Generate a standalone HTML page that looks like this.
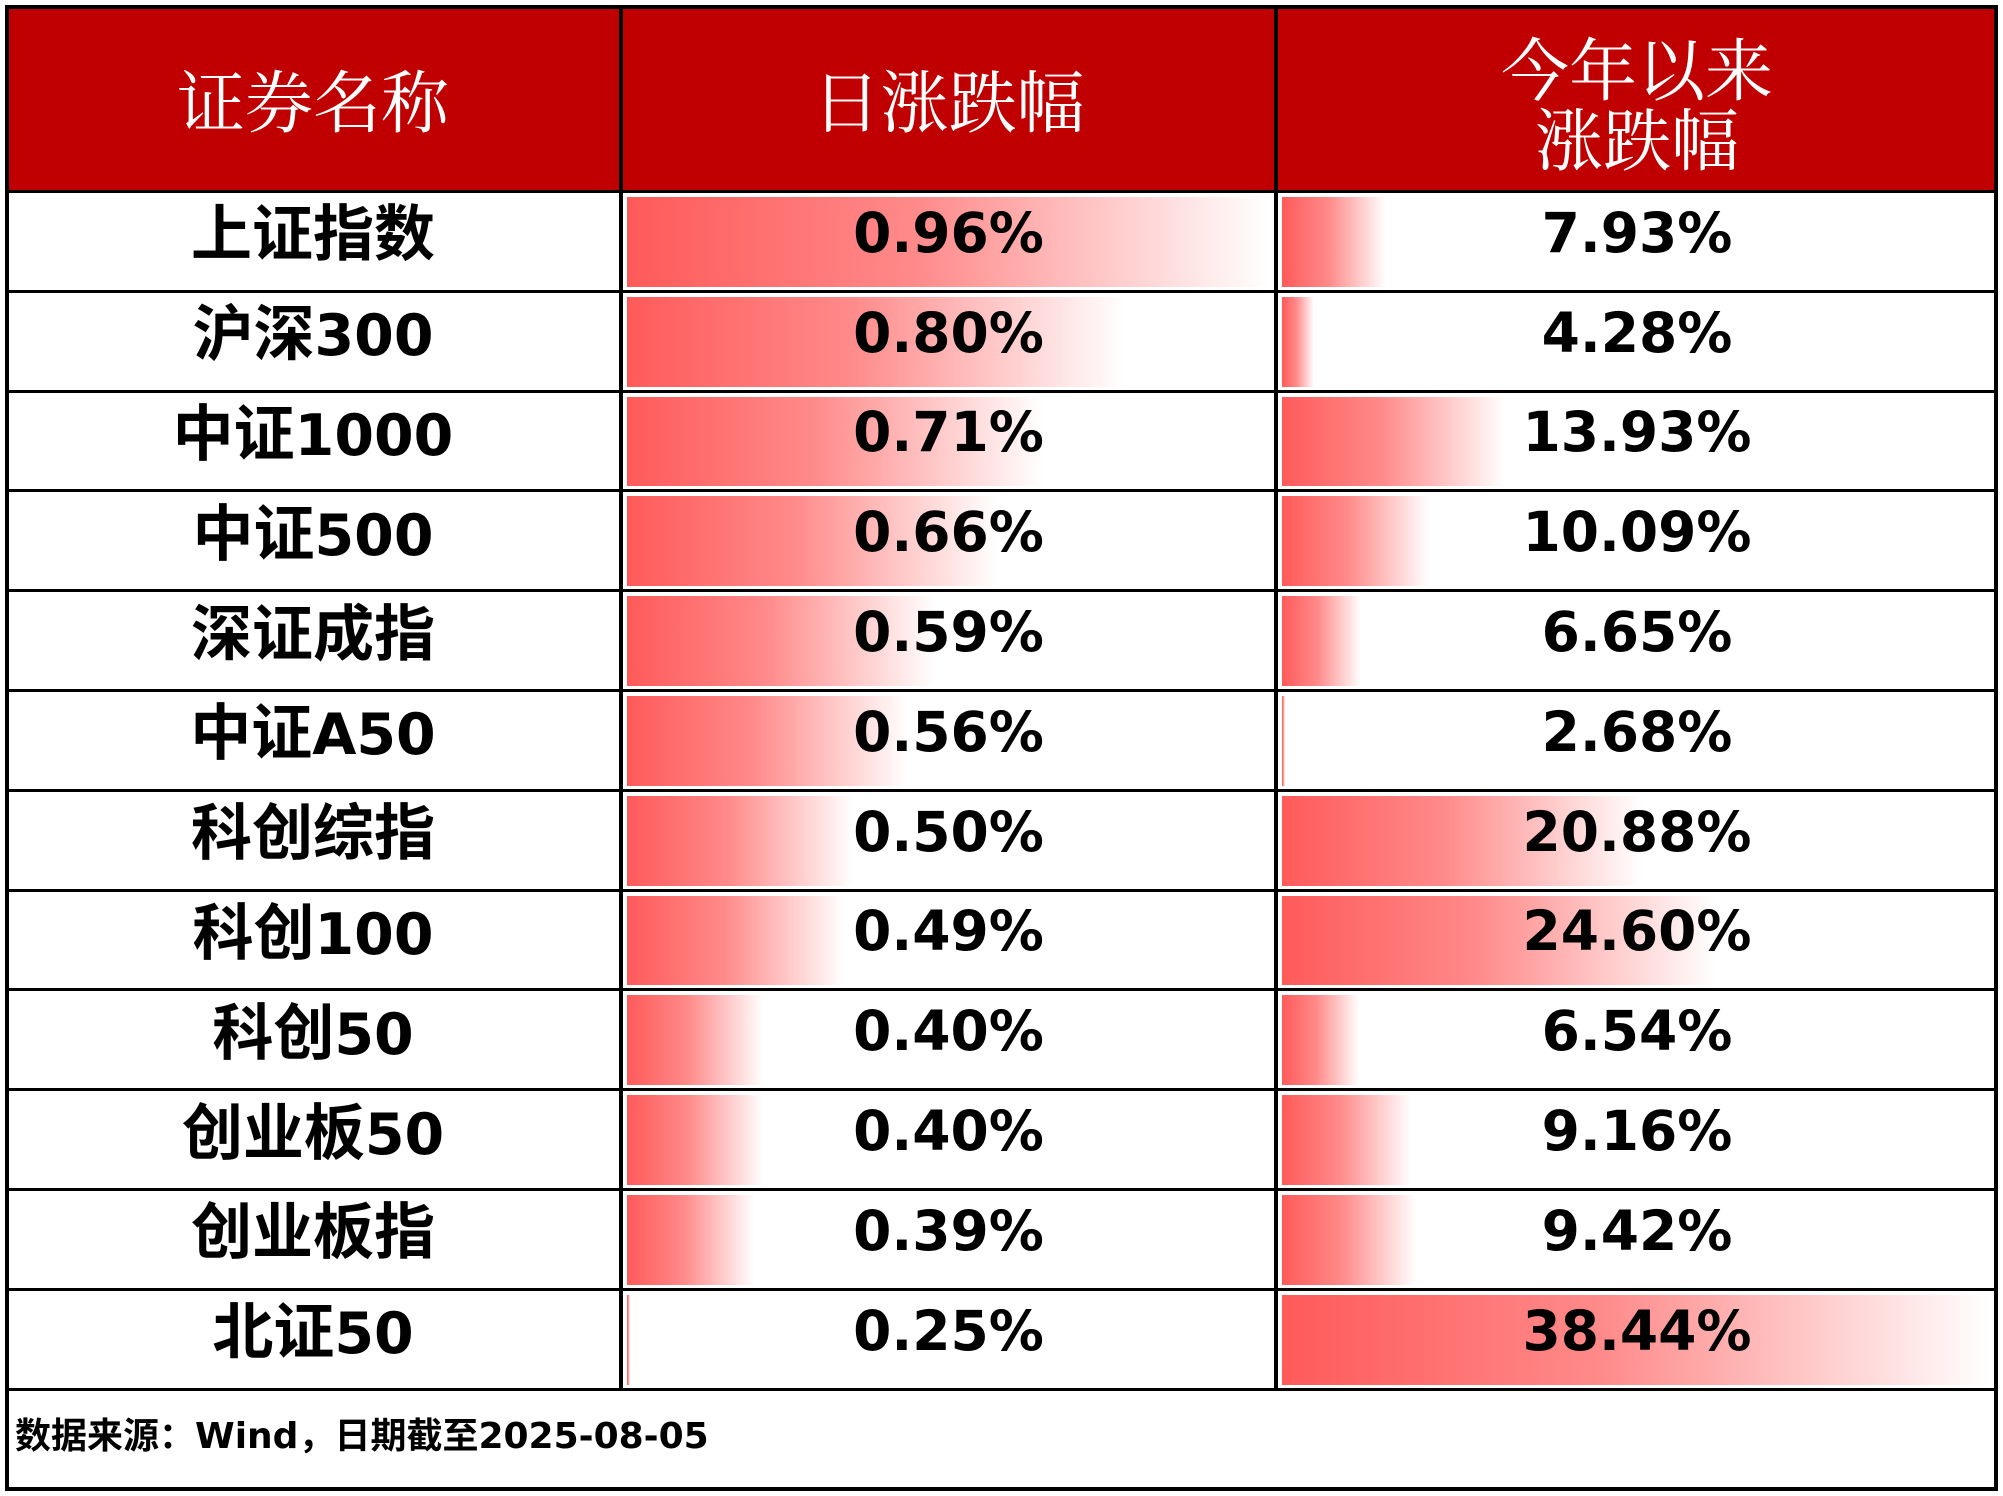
<!DOCTYPE html>
<html><head><meta charset="utf-8">
<style>
body{margin:0;background:#fff;width:2003px;height:1496px;overflow:hidden;font-family:"DejaVu Sans","Noto Sans CJK SC",sans-serif;}
#t{position:absolute;left:5px;top:5px;width:1993px;height:1486px;}
.ln{position:absolute;background:#000;}
.hd{position:absolute;top:0;height:187px;background:#c00000;color:#fff;font-family:"Noto Serif CJK SC","WenQuanYi Zen Hei",serif;font-size:68px;display:flex;align-items:center;justify-content:center;text-align:center;line-height:70px;}
.cell{position:absolute;display:flex;align-items:center;justify-content:center;font-weight:bold;font-size:55px;color:#000;padding-bottom:18px;box-sizing:border-box;}
.nm{font-size:57px;padding-bottom:26px;}
.cj{font-size:61px;}
.bar{position:absolute;background:linear-gradient(to right,#ff5a5a,#ff8a8a 45%,#ffffff);}
</style></head><body>
<div id="t"></div>
<script>
const names=["上证指数","沪深300","中证1000","中证500","深证成指","中证A50","科创综指","科创100","科创50","创业板50","创业板指","北证50"];
const daily=[0.96,0.80,0.71,0.66,0.59,0.56,0.50,0.49,0.40,0.40,0.39,0.25];
const ytd=[7.93,4.28,13.93,10.09,6.65,2.68,20.88,24.60,6.54,9.16,9.42,38.44];
const t=document.getElementById('t');
const W=1993,c1=616,c2=1271,hdH=187,rowH=99.8,footTop=hdH+12*rowH;
function add(cls,css,txt,name){const e=document.createElement('div');e.className=cls;e.style.cssText=css;if(txt!==undefined)e.innerHTML=txt;


t.appendChild(e);return e;}
add('hd',`left:0;width:${c1}px`,'证券名称','header-name');
add('hd',`left:${c1}px;width:${c2-c1}px`,'日涨跌幅','header-daily-change');
add('hd',`left:${c2}px;width:${W-c2}px;padding-top:6px;box-sizing:border-box`,'今年以来<br>涨跌幅','header-ytd-change');
function scale(v,arr,w){const mn=Math.min(...arr),mx=Math.max(...arr);return Math.max(3,(v-mn)/(mx-mn)*w);}
for(let i=0;i<12;i++){
 const y=hdH+i*rowH;
 const w2=c2-c1-12,w3=W-c2-12;
 add('bar',`left:${c1+6}px;top:${y+5}px;height:${rowH-10}px;width:${scale(daily[i],daily,w2)}px`,undefined,'daily-bar');
 add('bar',`left:${c2+6}px;top:${y+5}px;height:${rowH-10}px;width:${scale(ytd[i],ytd,w3)}px`,undefined,'ytd-bar');
 add('cell nm',`left:0;width:${c1}px;top:${y}px;height:${rowH}px`,'<span>'+names[i].replace(/([^\x00-\x7f]+)/g,'<span class="cj">$1</span>')+'</span>','security-name');
 add('cell',`left:${c1}px;width:${c2-c1}px;top:${y}px;height:${rowH}px`,daily[i].toFixed(2)+'%','daily-change-value');
 add('cell',`left:${c2}px;width:${W-c2}px;top:${y}px;height:${rowH}px`,ytd[i].toFixed(2)+'%','ytd-change-value');
}
add('cell',`left:10px;top:${footTop}px;height:${1486-footTop}px;font-size:36px;justify-content:flex-start;padding-bottom:14px`,'数据来源：Wind，日期截至2025-08-05','source-note');
add('ln',`left:0;top:0;width:${W}px;height:4px`,undefined,'border-top');
add('ln',`left:0;top:1482px;width:${W}px;height:4px`,undefined,'border-bottom');
add('ln',`left:0;top:0;width:4px;height:1486px`,undefined,'border-left');
add('ln',`left:${W-4}px;top:0;width:4px;height:1486px`,undefined,'border-right');
add('ln',`left:${c1-2}px;top:0;width:4px;height:${footTop}px`,undefined,'col-line');
add('ln',`left:${c2-2}px;top:0;width:4px;height:${footTop}px`,undefined,'col-line');
for(let i=0;i<=12;i++){add('ln',`left:0;top:${hdH+i*rowH-2}px;width:${W}px;height:3px`,undefined,'row-line');}
</script>
</body></html>
